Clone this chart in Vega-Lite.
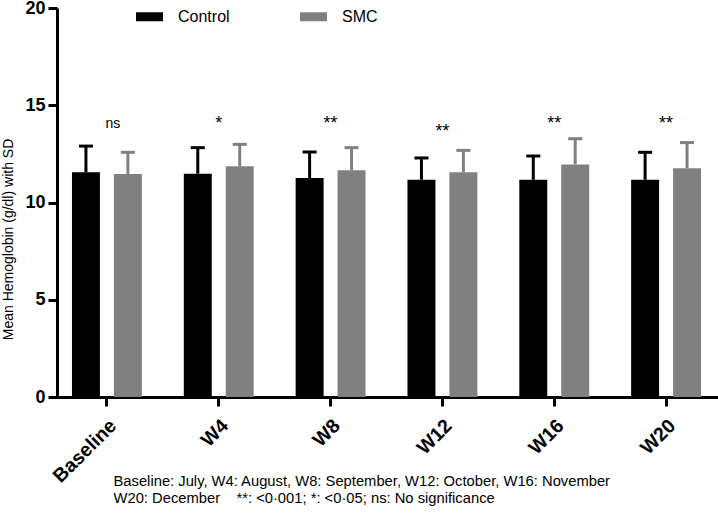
{
  "$schema": "https://vega.github.io/schema/vega-lite/v6.json",
  "autosize": {"type": "none"},
  "padding": {"left": 51, "top": 8, "right": 0, "bottom": 122},
  "width": 671,
  "height": 389,
  "background": "white",
  "config": {
    "view": {"stroke": null},
    "font": "Liberation Sans"
  },
  "datasets": {
    "hb": [
      {"time": "Baseline", "group": "Control", "mean": 11.55, "upper": 12.9},
      {"time": "Baseline", "group": "SMC", "mean": 11.47, "upper": 12.58},
      {"time": "W4", "group": "Control", "mean": 11.48, "upper": 12.82},
      {"time": "W4", "group": "SMC", "mean": 11.86, "upper": 12.99},
      {"time": "W8", "group": "Control", "mean": 11.26, "upper": 12.6},
      {"time": "W8", "group": "SMC", "mean": 11.66, "upper": 12.82},
      {"time": "W12", "group": "Control", "mean": 11.17, "upper": 12.29},
      {"time": "W12", "group": "SMC", "mean": 11.55, "upper": 12.68},
      {"time": "W16", "group": "Control", "mean": 11.17, "upper": 12.39},
      {"time": "W16", "group": "SMC", "mean": 11.96, "upper": 13.28},
      {"time": "W20", "group": "Control", "mean": 11.17, "upper": 12.58},
      {"time": "W20", "group": "SMC", "mean": 11.76, "upper": 13.08}
    ],
    "sig": [
      {"time": "Baseline", "sig": "ns"},
      {"time": "W4", "sig": "*"},
      {"time": "W8", "sig": "**"},
      {"time": "W12", "sig": "**"},
      {"time": "W16", "sig": "**"},
      {"time": "W20", "sig": "**"}
    ]
  },
  "encoding": {
    "x": {
      "field": "time",
      "type": "nominal",
      "sort": ["Baseline", "W4", "W8", "W12", "W16", "W20"],
      "scale": {"paddingInner": 0.375, "paddingOuter": 0.1875},
      "axis": {
        "title": ["Baseline: July, W4: August, W8: September, W12: October, W16: November", "W20: December\u00a0\u00a0\u00a0 **: <0·001; *: <0·05; ns: No significance"],
        "titleFont": "Liberation Sans",
        "titleFontSize": 14.75,
        "titleFontWeight": "normal",
        "titleColor": "black",
        "titleAlign": "left",
        "titleAnchor": "start",
        "titleBaseline": "alphabetic",
        "titleX": 62,
        "titleY": 88,
        "titleLineHeight": 17,
        "labelAngle": -45,
        "labelAlign": "right",
        "labelBaseline": "top",
        "labelFontSize": 19.5,
        "labelFontWeight": "bold",
        "labelColor": "black",
        "labelPadding": 10,
        "domainColor": "black",
        "domainWidth": 3,
        "tickColor": "black",
        "tickWidth": 3,
        "tickSize": 9,
        "grid": false
      }
    }
  },
  "layer": [
    {
      "data": {"name": "hb"},
      "mark": {"type": "bar", "opacity": 1},
      "encoding": {
        "xOffset": {"field": "group", "type": "nominal", "scale": {"paddingInner": 0.3333, "paddingOuter": 0}},
        "y": {
          "field": "mean",
          "type": "quantitative",
          "scale": {"domain": [0, 20], "nice": false},
          "axis": {
            "title": "Mean Hemoglobin (g/dl) with SD",
            "titleFont": "Liberation Sans",
            "titleFontSize": 14,
            "titleFontWeight": "normal",
            "titleColor": "black",
            "titleX": -42,
            "titleY": 231,
            "titleAlign": "center",
            "values": [0, 5, 10, 15, 20],
            "offset": -6,
            "labelFontSize": 18,
            "labelFontWeight": "bold",
            "labelColor": "black",
            "labelPadding": 3,
            "domainColor": "black",
            "domainWidth": 3,
            "tickColor": "black",
            "tickWidth": 3,
            "tickSize": 9,
            "grid": false
          }
        },
        "color": {
          "field": "group",
          "type": "nominal",
          "scale": {"domain": ["Control", "SMC"], "range": ["#000000", "#808080"]},
          "legend": {
            "title": null,
            "orient": "none",
            "legendX": 85,
            "legendY": -5,
            "direction": "horizontal",
            "symbolType": "M-1,-0.333H1V0.333H-1Z",
            "symbolSize": 729,
            "symbolStrokeWidth": 0,
            "symbolOpacity": 1,
            "labelFont": "Liberation Sans",
            "labelFontSize": 16,
            "labelColor": "black",
            "labelOffset": 15,
            "columnPadding": 70
          }
        }
      }
    },
    {
      "data": {"name": "hb"},
      "mark": {"type": "rule", "strokeWidth": 3, "opacity": 1},
      "encoding": {
        "xOffset": {"field": "group", "type": "nominal"},
        "y": {"field": "mean", "type": "quantitative"},
        "y2": {"field": "upper"},
        "color": {"field": "group", "type": "nominal"}
      }
    },
    {
      "data": {"name": "hb"},
      "mark": {"type": "tick", "thickness": 3, "size": 14, "orient": "horizontal", "opacity": 1},
      "encoding": {
        "xOffset": {"field": "group", "type": "nominal"},
        "y": {"field": "upper", "type": "quantitative"},
        "color": {"field": "group", "type": "nominal"}
      }
    },
    {
      "data": {"name": "sig"},
      "transform": [{"filter": "datum.sig == 'ns'"}],
      "mark": {"type": "text", "fontSize": 14, "font": "Liberation Sans", "color": "black", "baseline": "alphabetic", "dx": 6},
      "encoding": {
        "y": {"datum": 13.85, "type": "quantitative"},
        "text": {"field": "sig"}
      }
    },
    {
      "data": {"name": "sig"},
      "transform": [{"filter": "datum.sig != 'ns' && datum.time != 'W12'"}],
      "mark": {"type": "text", "fontSize": 18, "font": "Liberation Sans", "color": "black", "baseline": "alphabetic"},
      "encoding": {
        "y": {"datum": 13.8, "type": "quantitative"},
        "text": {"field": "sig"}
      }
    },
    {
      "data": {"name": "sig"},
      "transform": [{"filter": "datum.time == 'W12'"}],
      "mark": {"type": "text", "fontSize": 18, "font": "Liberation Sans", "color": "black", "baseline": "alphabetic"},
      "encoding": {
        "y": {"datum": 13.35, "type": "quantitative"},
        "text": {"field": "sig"}
      }
    }
  ]
}
